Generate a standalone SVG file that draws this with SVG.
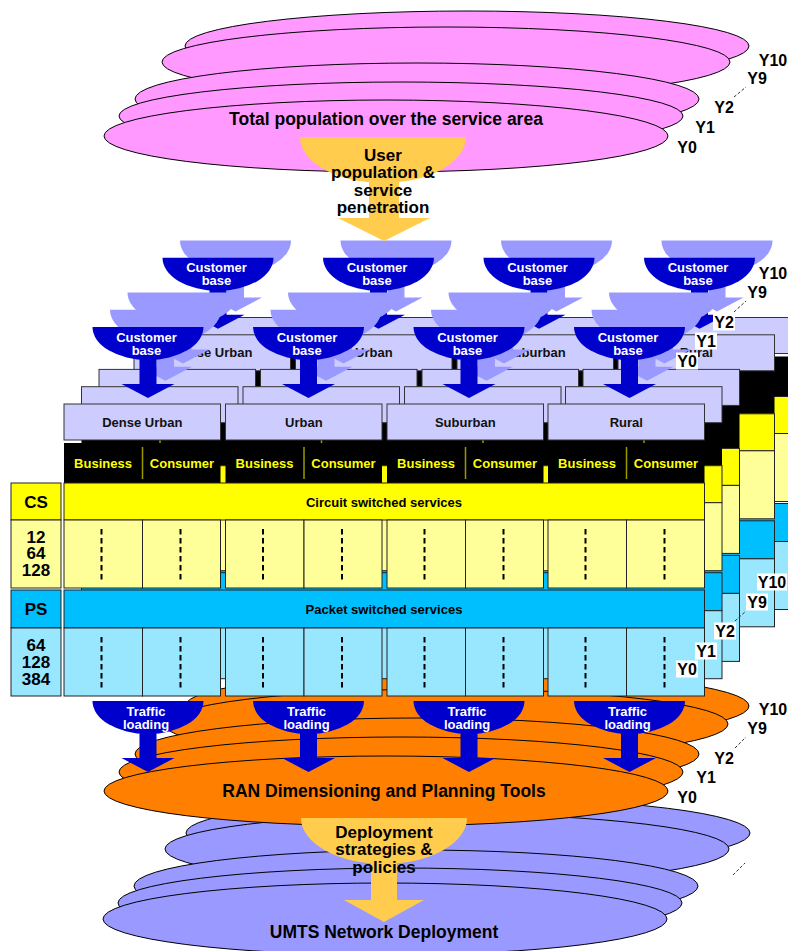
<svg xmlns="http://www.w3.org/2000/svg" width="788" height="951" viewBox="0 0 788 951">
<style>
text{font-family:"Liberation Sans",Arial,Helvetica,sans-serif;font-weight:bold;text-anchor:middle}
.pink{fill:#FF99FF;stroke:#000;stroke-width:1}
.orng{fill:#FF8000;stroke:#000;stroke-width:1}
.purp{fill:#9999FF;stroke:#000;stroke-width:1}
.reg{fill:#CCCCFF;stroke:#333;stroke-width:1}
.blk{fill:#000}
.olv{stroke:#999900;stroke-width:1.5;fill:none}
.cs{fill:#FFFF00;stroke:#222;stroke-width:1}
.ly{fill:#FFFF99;stroke:#222;stroke-width:1}
.ps{fill:#00BFFF;stroke:#222;stroke-width:1}
.lc{fill:#99E6FF;stroke:#222;stroke-width:1}
.dash{stroke:#000;stroke-width:2;stroke-dasharray:5.5 3.5;fill:none}
.big{font-size:17.5px;fill:#000}
.fun{font-size:17px;fill:#000}
.atx{font-size:13px;fill:#fff}
.rl{font-size:13px;fill:#111}
.bc{font-size:13px;fill:#FFFF00}
.bar{font-size:13px;fill:#000}
.side{font-size:17px;fill:#000}
.yl{font-size:16px;fill:#000}
.ybox{fill:#fff}
.ydash{stroke:#333;stroke-width:1;stroke-dasharray:3 2;fill:none}
.dark{fill:#0000CC}
.light{fill:#9999FF}
.gold{fill:#FFCC4D}
</style>
<defs>
<g id="cb">
<path d="M-55.5,0A55.5,33 0 0 0 55.5,0Z"/>
<rect x="-8.5" y="30" width="17" height="28"/>
<polygon points="-26.5,57 26.5,57 0,71"/>
</g>
<g id="tbl">
<rect class="reg" x="64" y="404" width="156.5" height="36"/>
<rect class="reg" x="225.5" y="404" width="156.5" height="36"/>
<rect class="reg" x="387" y="404" width="156.5" height="36"/>
<rect class="reg" x="548" y="404" width="156.5" height="36"/>
<rect class="blk" x="64" y="443" width="156.5" height="40"/>
<rect class="blk" x="225.5" y="443" width="156.5" height="40"/>
<rect class="blk" x="387" y="443" width="156.5" height="40"/>
<rect class="blk" x="548" y="443" width="156.5" height="40"/>
<path class="olv" d="M142.5,447V479M304,447V479M465.5,447V479M626.5,447V479"/>
<rect class="cs" x="64" y="483" width="640.5" height="37"/>
<rect class="ly" x="64" y="520" width="78.5" height="68"/>
<rect class="ly" x="142.5" y="520" width="78" height="68"/>
<rect class="ly" x="225.5" y="520" width="78.5" height="68"/>
<rect class="ly" x="304" y="520" width="78" height="68"/>
<rect class="ly" x="387" y="520" width="78.5" height="68"/>
<rect class="ly" x="465.5" y="520" width="78" height="68"/>
<rect class="ly" x="548" y="520" width="78.5" height="68"/>
<rect class="ly" x="626.5" y="520" width="78" height="68"/>
<rect class="ps" x="64" y="590" width="640.5" height="38"/>
<rect class="lc" x="64" y="628" width="78.5" height="68"/>
<rect class="lc" x="142.5" y="628" width="78" height="68"/>
<rect class="lc" x="225.5" y="628" width="78.5" height="68"/>
<rect class="lc" x="304" y="628" width="78" height="68"/>
<rect class="lc" x="387" y="628" width="78.5" height="68"/>
<rect class="lc" x="465.5" y="628" width="78" height="68"/>
<rect class="lc" x="548" y="628" width="78.5" height="68"/>
<rect class="lc" x="626.5" y="628" width="78" height="68"/>
<path class="dash" d="M101.5,529V580M180.5,529V580M263,529V580M342,529V580M424.5,529V580M503.5,529V580M585.5,529V580M664.5,529V580M101.5,637V689M180.5,637V689M263,637V689M342,637V689M424.5,637V689M503.5,637V689M585.5,637V689M664.5,637V689"/>
</g>
</defs>

<g id="population">
<ellipse class="pink" cx="467" cy="46" rx="282" ry="35"/>
<ellipse class="pink" cx="446" cy="62" rx="284" ry="35"/>
<ellipse class="pink" cx="417" cy="99" rx="282" ry="36"/>
<ellipse class="pink" cx="401" cy="116" rx="282" ry="34"/>
<ellipse class="pink" cx="386" cy="136" rx="282" ry="36"/>
<text class="big" x="386" y="125">Total population over the service area</text>
</g>

<g id="deployment">
<ellipse class="purp" cx="468" cy="833" rx="282" ry="35"/>
<ellipse class="purp" cx="447" cy="849" rx="282" ry="35"/>
<ellipse class="purp" cx="416" cy="886" rx="282" ry="36"/>
<ellipse class="purp" cx="400" cy="903" rx="282" ry="35"/>
<ellipse class="purp" cx="385" cy="919" rx="282" ry="36"/>
<text class="big" x="384" y="938">UMTS Network Deployment</text>
</g>

<g id="ran">
<ellipse class="orng" cx="467" cy="706" rx="282" ry="35"/>
<ellipse class="orng" cx="446" cy="724" rx="282" ry="35"/>
<ellipse class="orng" cx="417" cy="754" rx="282" ry="36"/>
<ellipse class="orng" cx="401" cy="772" rx="282" ry="35"/>
<ellipse class="orng" cx="386" cy="791" rx="282" ry="35"/>
<text class="big" x="384" y="797">RAN Dimensioning and Planning Tools</text>
</g>

<g id="layer-y10" transform="translate(87.5,-86.5)">
<use href="#tbl"/>
<use href="#cb" x="148" y="327" class="light"/>
<use href="#cb" x="308.5" y="327" class="light"/>
<use href="#cb" x="469" y="327" class="light"/>
<use href="#cb" x="629.5" y="327" class="light"/>
</g>
<g id="layer-y9" transform="translate(70,-69.2)">
<use href="#tbl"/>
<text class="rl" x="142.3" y="426.6">Dense Urban</text>
<text class="rl" x="303.8" y="426.6">Urban</text>
<text class="rl" x="465.3" y="426.6">Suburban</text>
<text class="rl" x="626.3" y="426.6">Rural</text>
<use href="#cb" x="148" y="327" class="dark"/>
<use href="#cb" x="308.5" y="327" class="dark"/>
<use href="#cb" x="469" y="327" class="dark"/>
<use href="#cb" x="629.5" y="327" class="dark"/>
<text class="atx" x="146.5" y="341.5">Customer</text><text class="atx" x="146.5" y="354.5">base</text>
<text class="atx" x="307" y="341.5">Customer</text><text class="atx" x="307" y="354.5">base</text>
<text class="atx" x="467.5" y="341.5">Customer</text><text class="atx" x="467.5" y="354.5">base</text>
<text class="atx" x="628" y="341.5">Customer</text><text class="atx" x="628" y="354.5">base</text>
</g>
<g id="layer-y2" transform="translate(35,-34.6)">
<use href="#tbl"/>
<use href="#cb" x="148" y="327" class="light"/>
<use href="#cb" x="308.5" y="327" class="light"/>
<use href="#cb" x="469" y="327" class="light"/>
<use href="#cb" x="629.5" y="327" class="light"/>
</g>
<g id="layer-y1" transform="translate(17.5,-17.3)">
<use href="#tbl"/>
<use href="#cb" x="148" y="327" class="light"/>
<use href="#cb" x="308.5" y="327" class="light"/>
<use href="#cb" x="469" y="327" class="light"/>
<use href="#cb" x="629.5" y="327" class="light"/>
</g>
<g id="layer-y0">
<use href="#tbl"/>
<text class="rl" x="142.3" y="426.6">Dense Urban</text>
<text class="rl" x="303.8" y="426.6">Urban</text>
<text class="rl" x="465.3" y="426.6">Suburban</text>
<text class="rl" x="626.3" y="426.6">Rural</text>
<text class="bc" x="103" y="467.6">Business</text>
<text class="bc" x="182" y="467.6">Consumer</text>
<text class="bc" x="264.5" y="467.6">Business</text>
<text class="bc" x="343.5" y="467.6">Consumer</text>
<text class="bc" x="426" y="467.6">Business</text>
<text class="bc" x="505" y="467.6">Consumer</text>
<text class="bc" x="587" y="467.6">Business</text>
<text class="bc" x="666" y="467.6">Consumer</text>
<text class="bar" x="384" y="506.6">Circuit switched services</text>
<text class="bar" x="384" y="613.6">Packet switched services</text>
<use href="#cb" x="148" y="327" class="dark"/>
<use href="#cb" x="308.5" y="327" class="dark"/>
<use href="#cb" x="469" y="327" class="dark"/>
<use href="#cb" x="629.5" y="327" class="dark"/>
<text class="atx" x="146.5" y="341.5">Customer</text><text class="atx" x="146.5" y="354.5">base</text>
<text class="atx" x="307" y="341.5">Customer</text><text class="atx" x="307" y="354.5">base</text>
<text class="atx" x="467.5" y="341.5">Customer</text><text class="atx" x="467.5" y="354.5">base</text>
<text class="atx" x="628" y="341.5">Customer</text><text class="atx" x="628" y="354.5">base</text>
</g>

<g id="service-classes">
<rect class="cs" x="11" y="483" width="50" height="37"/>
<rect class="ly" x="11" y="520" width="50" height="68"/>
<rect class="ps" x="11" y="590" width="50" height="38"/>
<rect class="lc" x="11" y="628" width="50" height="68"/>
<text class="side" x="36" y="508">CS</text>
<text class="side" x="36" y="543">12</text>
<text class="side" x="36" y="559">64</text>
<text class="side" x="36" y="576">128</text>
<text class="side" x="36" y="615">PS</text>
<text class="side" x="36" y="651">64</text>
<text class="side" x="36" y="668">128</text>
<text class="side" x="36" y="685">384</text>
</g>

<g id="connectors">
<g id="funnel-top">
<path class="gold" d="M300,137A83,46 0 0 0 466,137Z"/>
<rect class="gold" x="369" y="175" width="30" height="45"/>
<polygon class="gold" points="338,218 430,218 384,241"/>
<text class="fun" x="383" y="161">User</text>
<text class="fun" x="383" y="178">population &amp;</text>
<text class="fun" x="383" y="196">service</text>
<text class="fun" x="383" y="213">penetration</text>
</g>
<g id="traffic">
<use href="#cb" x="148" y="701" class="dark"/>
<use href="#cb" x="308.5" y="701" class="dark"/>
<use href="#cb" x="469" y="701" class="dark"/>
<use href="#cb" x="629.5" y="701" class="dark"/>
<text class="atx" x="146" y="715.5">Traffic</text><text class="atx" x="146" y="728.5">loading</text>
<text class="atx" x="306.5" y="715.5">Traffic</text><text class="atx" x="306.5" y="728.5">loading</text>
<text class="atx" x="467" y="715.5">Traffic</text><text class="atx" x="467" y="728.5">loading</text>
<text class="atx" x="627.5" y="715.5">Traffic</text><text class="atx" x="627.5" y="728.5">loading</text>
</g>
<g id="funnel-bottom">
<path class="gold" d="M301,818A83,46 0 0 0 467,818Z"/>
<rect class="gold" x="371" y="856" width="26" height="46"/>
<polygon class="gold" points="344,900 424,900 384,922"/>
<text class="fun" x="384" y="838">Deployment</text>
<text class="fun" x="384" y="855">strategies &amp;</text>
<text class="fun" x="384" y="873">policies</text>
</g>
</g>

<g id="labels">
<g id="labels-population">
<rect class="ybox" x="758" y="51.5" width="30" height="17"/><text class="yl" x="773" y="65.6">Y10</text>
<rect class="ybox" x="746" y="69.5" width="22" height="17"/><text class="yl" x="757" y="83.6">Y9</text>
<rect class="ybox" x="713" y="98.5" width="22" height="17"/><text class="yl" x="724" y="112.6">Y2</text>
<rect class="ybox" x="694" y="118.5" width="22" height="17"/><text class="yl" x="705" y="132.6">Y1</text>
<rect class="ybox" x="676" y="138.5" width="22" height="17"/><text class="yl" x="687" y="152.6">Y0</text>
<path class="ydash" d="M734,97L746,87"/>
</g>
<g id="labels-customer">
<rect class="ybox" x="758" y="264.5" width="30" height="17"/><text class="yl" x="773" y="278.6">Y10</text>
<rect class="ybox" x="746" y="283.5" width="22" height="17"/><text class="yl" x="757" y="297.6">Y9</text>
<rect class="ybox" x="713" y="313.5" width="22" height="17"/><text class="yl" x="724" y="327.6">Y2</text>
<rect class="ybox" x="695" y="332.5" width="22" height="17"/><text class="yl" x="706" y="346.6">Y1</text>
<rect class="ybox" x="676" y="352.5" width="22" height="17"/><text class="yl" x="687" y="366.6">Y0</text>
<path class="ydash" d="M734,312L746,301"/>
</g>
<g id="labels-services">
<rect class="ybox" x="757" y="573.5" width="30" height="17"/><text class="yl" x="772" y="587.6">Y10</text>
<rect class="ybox" x="746" y="593.5" width="22" height="17"/><text class="yl" x="757" y="607.6">Y9</text>
<rect class="ybox" x="714" y="622.5" width="22" height="17"/><text class="yl" x="725" y="636.6">Y2</text>
<rect class="ybox" x="695" y="642.5" width="22" height="17"/><text class="yl" x="706" y="656.6">Y1</text>
<rect class="ybox" x="676" y="660.5" width="22" height="17"/><text class="yl" x="687" y="674.6">Y0</text>
<path class="ydash" d="M735,621L746,611"/>
</g>
<g id="labels-ran">
<rect class="ybox" x="758" y="700.5" width="30" height="17"/><text class="yl" x="773" y="714.6">Y10</text>
<rect class="ybox" x="746" y="719.5" width="22" height="17"/><text class="yl" x="757" y="733.6">Y9</text>
<rect class="ybox" x="713" y="749.5" width="22" height="17"/><text class="yl" x="724" y="763.6">Y2</text>
<rect class="ybox" x="695" y="768.5" width="22" height="17"/><text class="yl" x="706" y="782.6">Y1</text>
<rect class="ybox" x="676" y="788.5" width="22" height="17"/><text class="yl" x="687" y="802.6">Y0</text>
<path class="ydash" d="M735,748L746,737"/>
</g>
<path class="ydash" d="M733,875L745,863"/>
</g>
</svg>
